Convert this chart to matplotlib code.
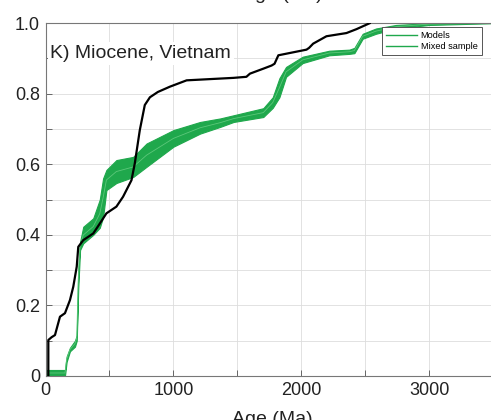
import matplotlib
matplotlib.use("Agg")
import matplotlib.pyplot as plt
import numpy as np

plt.rcParams['font.family'] = ['Liberation Sans', 'DejaVu Sans']

# Sample (black) cumulative distribution
sample_age = [22, 22, 48, 74, 113, 152, 191, 217, 244, 256, 295, 373, 426, 476, 554,
              606, 672, 698, 737, 776, 816, 878, 972, 1103, 1470, 1570, 1598, 1702,
              1767, 1790, 1820, 2040, 2060, 2092, 2196, 2352, 2430, 2534]
sample_cdf = [0, 0.102, 0.11, 0.116, 0.168, 0.178, 0.215, 0.253, 0.31, 0.366, 0.385,
              0.404, 0.433, 0.461, 0.48, 0.508, 0.555, 0.603, 0.697, 0.768, 0.79, 0.805,
              0.82, 0.838, 0.845, 0.848, 0.857, 0.871, 0.88, 0.885, 0.909, 0.925, 0.93,
              0.942, 0.963, 0.972, 0.983, 1.0]

# Model envelope (green band)
model_age = [9, 152, 165, 191, 230, 244, 256, 270, 295, 373, 424, 450, 476, 554, 685,
             790, 1000, 1208, 1365, 1470, 1702, 1776, 1828, 1880, 2010, 2218, 2375,
             2414, 2479, 2583, 2740, 3000, 3500]
model_lo = [0, 0, 0.04, 0.07, 0.083, 0.10, 0.25, 0.357, 0.376, 0.40, 0.42, 0.45, 0.527,
            0.547, 0.564, 0.593, 0.65, 0.687, 0.706, 0.72, 0.734, 0.76, 0.79, 0.848,
            0.887, 0.909, 0.913, 0.915, 0.956, 0.97, 0.985, 0.995, 1.0]
model_hi = [0.017, 0.017, 0.055, 0.08, 0.10, 0.115, 0.30, 0.38, 0.423, 0.447, 0.50,
            0.56, 0.584, 0.612, 0.621, 0.659, 0.697, 0.72, 0.73, 0.739, 0.759, 0.79,
            0.844, 0.876, 0.905, 0.922, 0.925, 0.93, 0.97, 0.985, 0.995, 1.0, 1.0]

x_ticks = [0, 500, 1000, 1500, 2000, 2500, 3000, 3500]
x_labels = ['0', '', '1000', '', '2000', '', '3000', '']
y_ticks = [0, 0.1, 0.2, 0.3, 0.4, 0.5, 0.6, 0.7, 0.8, 0.9, 1.0]
y_labels = ['0', '', '0.2', '', '0.4', '', '0.6', '', '0.8', '', '1.0']

green = '#1fa84c'

fig = plt.figure(figsize=(4.91, 4.20), dpi=100)
ax = fig.add_axes([0.0927, 0.1048, 0.912, 0.840])

lo = np.array(model_lo)
hi = np.array(model_hi)
ax.fill_between(model_age, lo, hi, color=green, linewidth=0.8, edgecolor=green, zorder=2)
ax.plot(model_age, (lo + hi) / 2, color='#5cc77a', lw=0.6, zorder=2.5)
ax.plot(sample_age, sample_cdf, color='black', lw=1.6, zorder=3)

# legend proxies
ax.plot([], [], color=green, lw=1.0, label='Models')
ax.plot([], [], color=green, lw=1.0, label='Mixed sample')
leg = ax.legend(loc='upper right', bbox_to_anchor=(0.974, 0.989), fontsize=6.6,
                handlelength=3.4, frameon=True, fancybox=False, framealpha=1,
                borderpad=0.45, labelspacing=0.2, handletextpad=0.4, borderaxespad=0)
leg.get_frame().set_edgecolor('#555555')
leg.get_frame().set_linewidth(0.7)

ax.set_xlim(0, 3500)
ax.set_ylim(0, 1.0)
ax.set_xticks(x_ticks)
ax.set_xticklabels(x_labels)
ax.set_yticks(y_ticks)
ax.set_yticklabels(y_labels)
ax.tick_params(direction='in', length=4, width=0.7, color='#666666',
               labelsize=13, pad=4, labelcolor='#222222')
ax.grid(True, color='#dddddd', lw=0.6)
ax.set_axisbelow(True)
for s in ax.spines.values():
    s.set_color('#777777')
    s.set_linewidth(0.8)

ax.text(0.011, 0.938, 'K) Miocene, Vietnam', transform=ax.transAxes, fontsize=14,
        va='top', ha='left', color='#222222',
        bbox=dict(facecolor='white', edgecolor='none', pad=2), zorder=4)

fig.text(0.574, 1.002, 'Age (Ma)', ha='center', va='baseline', fontsize=14, color='#222222')
fig.text(0.554, 0.021, 'Age (Ma)', ha='center', va='top', fontsize=14, color='#222222')

fig.savefig('out.png', dpi=100)
